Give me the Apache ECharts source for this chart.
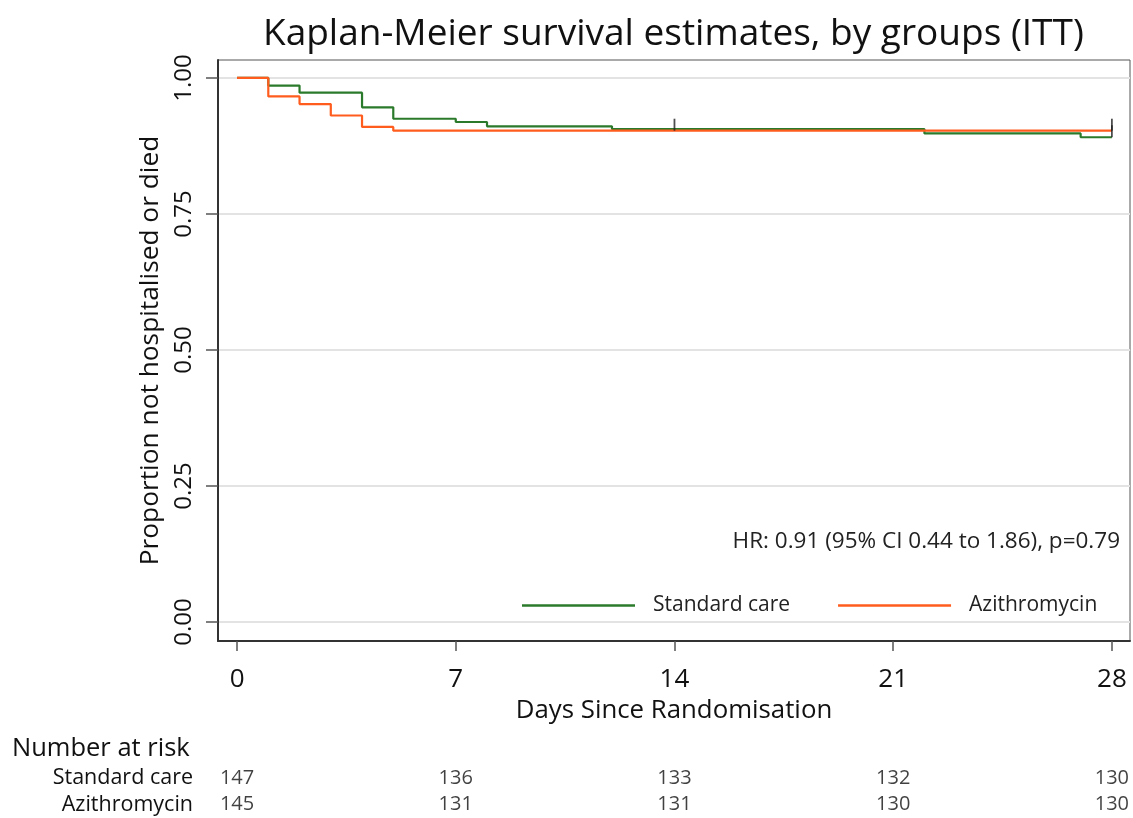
<!DOCTYPE html>
<html>
<head>
<meta charset="utf-8">
<script src="https://cdn.jsdelivr.net/npm/echarts@6/dist/echarts.min.js"></script>
<style>
  html, body { margin: 0; padding: 0; background: #fff; }
  #chart { width: 1133px; height: 818px; }
</style>
</head>
<body>
<div id="chart"></div>
<script>
// survival steps (day, proportion)
var stdDays = [0, 1, 2, 4, 5, 7, 8, 12, 22, 27, 28];
var stdSurv = [1, 0.986, 0.973, 0.946, 0.925, 0.919, 0.911, 0.906, 0.898, 0.891, 0.891];
var aziDays = [0, 1, 2, 3, 4, 5, 28];
var aziSurv = [1, 0.966, 0.952, 0.931, 0.910, 0.903, 0.903];

// censoring ticks
var stdCensorDays = [28];
var stdCensorSurv = [0.891];
var aziCensorDays = [14, 28];
var aziCensorSurv = [0.903, 0.903];

var xTicks = [0, 7, 14, 21, 28];
var yTicks = [0, 0.25, 0.5, 0.75, 1];

// number at risk table
var riskDays = [0, 7, 14, 21, 28];
var riskStd = [147, 136, 133, 132, 130];
var riskAzi = [145, 131, 131, 130, 130];
var riskGroups = ['Azithromycin', 'Standard care'];

var green = '#2b7a2b';
var orange = '#ff5c1e';
var font = 'Open Sans';

function pairs(xs, ys) {
  return xs.map(function (x, i) { return [x, ys[i]]; });
}

var chart = echarts.init(document.getElementById('chart'));
var option = {
  animation: false,
  textStyle: { fontFamily: font, color: '#222' },
  title: [
    {
      text: 'Kaplan-Meier survival estimates, by groups (ITT)',
      left: 258, top: 11,
      textStyle: { fontFamily: font, fontSize: 37, fontWeight: 'normal', color: '#111' }
    },
    {
      text: 'HR: 0.91 (95% CI 0.44 to 1.86), p=0.79',
      right: 8, top: 525,
      textStyle: { fontFamily: font, fontSize: 22.5, fontWeight: 'normal', color: '#222' }
    },
    {
      text: 'Number at risk',
      left: 7, top: 731,
      textStyle: { fontFamily: font, fontSize: 25.5, fontWeight: 'normal', color: '#111' }
    }
  ],
  legend: {
    data: ['Standard care', 'Azithromycin'],
    left: 517, top: 590,
    icon: 'rect',
    itemWidth: 113, itemHeight: 2.5, itemGap: 48,
    textStyle: { fontFamily: font, fontSize: 21, color: '#222', padding: [0, 0, 0, 13] }
  },
  grid: [
    { left: 218, right: 3, top: 60, bottom: 177, show: true, borderColor: '#555', borderWidth: 1 },
    { left: 218, right: 3, top: 765, height: 54 }
  ],
  xAxis: [
    {
      type: 'value', gridIndex: 0, min: -0.61, max: 28.58,
      name: 'Days Since Randomisation', nameLocation: 'middle', nameGap: 48,
      nameTextStyle: { fontFamily: font, fontSize: 25.8, color: '#111' },
      axisLine: { show: true, onZero: false, lineStyle: { color: '#333', width: 2 } },
      axisTick: { show: true, customValues: xTicks, length: 10, lineStyle: { color: '#555', width: 1.5 } },
      axisLabel: { customValues: xTicks, margin: 26, fontSize: 26, color: '#111', fontFamily: font },
      splitLine: { show: false }
    },
    {
      type: 'value', gridIndex: 1, min: -0.61, max: 28.58, show: false
    }
  ],
  yAxis: [
    {
      type: 'value', gridIndex: 0, min: -0.035, max: 1.033,
      name: 'Proportion not hospitalised or died', nameLocation: 'middle', nameGap: 54,
      nameRotate: 90,
      nameTextStyle: { fontFamily: font, fontSize: 26.3, color: '#111' },
      axisLine: { show: true, onZero: false, lineStyle: { color: '#333', width: 2 } },
      axisTick: { show: true, customValues: yTicks, length: 12, lineStyle: { color: '#555', width: 1.5 } },
      axisLabel: {
        customValues: yTicks, rotate: 90, margin: 22, fontSize: 24, color: '#111', fontFamily: font,
        formatter: function (v) { return v.toFixed(2); }
      },
      splitLine: { show: true, lineStyle: { color: '#e3e3e3', width: 2 } }
    },
    {
      type: 'category', gridIndex: 1, data: riskGroups,
      axisLine: { show: false }, axisTick: { show: false },
      axisLabel: { interval: 0, margin: 25, fontSize: 21.5, color: '#111', fontFamily: font },
      splitLine: { show: false }
    }
  ],
  series: [
    {
      name: 'Standard care', type: 'line', step: 'end',
      xAxisIndex: 0, yAxisIndex: 0,
      data: pairs(stdDays, stdSurv),
      symbol: 'none', color: green,
      lineStyle: { color: green, width: 2.2 }
    },
    {
      name: 'Azithromycin', type: 'line', step: 'end',
      xAxisIndex: 0, yAxisIndex: 0,
      data: pairs(aziDays, aziSurv),
      symbol: 'none', color: orange,
      lineStyle: { color: orange, width: 2.2 }
    },
    {
      name: 'censored', type: 'scatter',
      xAxisIndex: 0, yAxisIndex: 0,
      data: pairs(stdCensorDays, stdCensorSurv).concat(pairs(aziCensorDays, aziCensorSurv)),
      symbol: 'rect', symbolSize: [1.8, 12], symbolOffset: [0, -6],
      itemStyle: { color: '#222' }, z: 5
    },
    {
      name: 'risk', type: 'scatter',
      xAxisIndex: 1, yAxisIndex: 1,
      symbolSize: 0,
      data: riskDays.map(function (d, i) { return [d, 'Standard care', riskStd[i]]; })
        .concat(riskDays.map(function (d, i) { return [d, 'Azithromycin', riskAzi[i]]; })),
      label: {
        show: true, position: 'inside', fontSize: 20, color: '#111', fontFamily: font,
        formatter: function (p) { return p.value[2]; }
      }
    }
  ]
};
chart.setOption(option);
</script>
</body>
</html>
